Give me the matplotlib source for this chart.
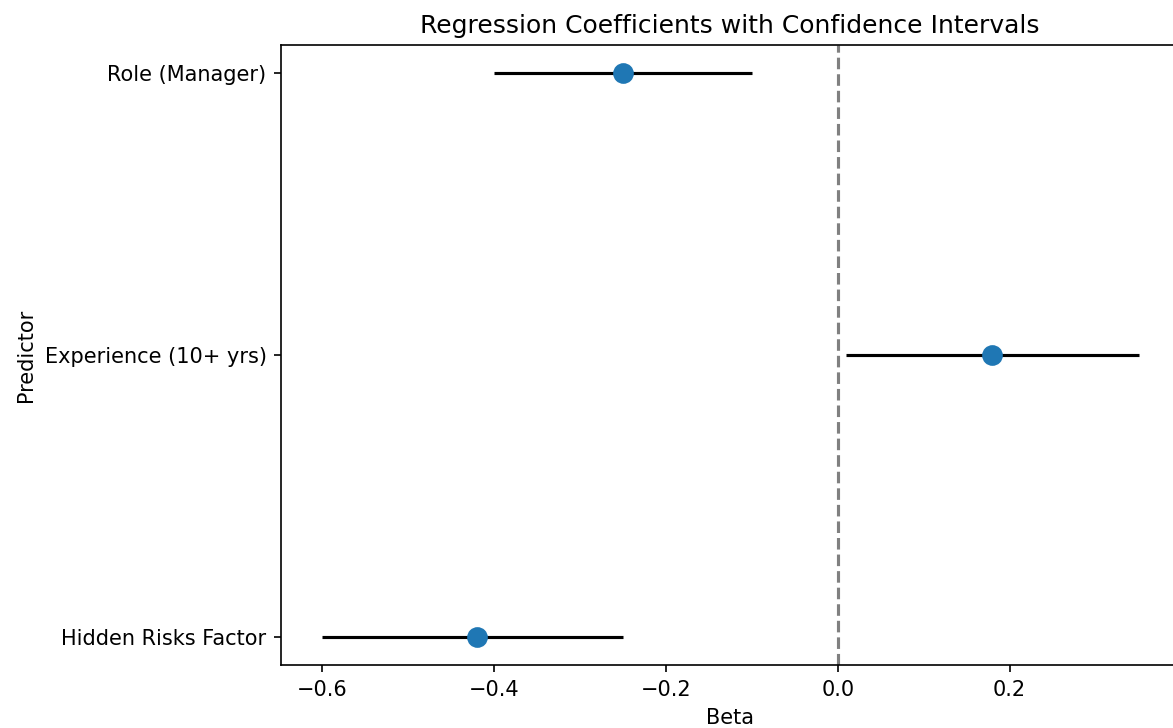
import numpy as np
import matplotlib
matplotlib.use("Agg")
from matplotlib import pyplot as plt

# regression results
predictors = ["Role (Manager)", "Experience (10+ yrs)", "Hidden Risks Factor"]
beta = [-0.25, 0.18, -0.42]
ci_low = [-0.40, 0.01, -0.60]
ci_high = [-0.10, 0.35, -0.25]
xticks = [-0.6, -0.4, -0.2, 0.0, 0.2]

dpi = 150
fig = plt.figure(figsize=(1173.4 / dpi, 728.4 / dpi), dpi=dpi)
# axes run just past the right edge (the original image was cropped there)
ax = fig.add_axes([281 / 1173, 63 / 728, 898 / 1173, 620 / 728])

y = np.arange(len(predictors))
ax.hlines(y, ci_low, ci_high, color="black", linewidth=1.5, zorder=2)
ax.scatter(beta, y, s=80, color="#1f77b4", zorder=3)
ax.axvline(0, color="gray", linestyle="--", linewidth=1.5, zorder=1)

ax.set_yticks(y)
ax.set_yticklabels(predictors)
ax.set_ylim(len(predictors) - 1 + 0.1, -0.1)
ax.set_xticks(xticks)
ax.set_xlabel("Beta")
ax.set_ylabel("Predictor")
ax.set_title("Regression Coefficients with Confidence Intervals")

fig.savefig("out.png", dpi=dpi)
